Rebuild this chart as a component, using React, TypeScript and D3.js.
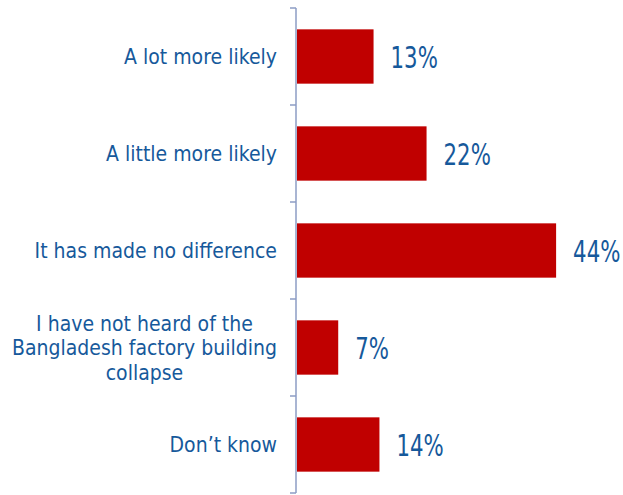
import * as d3 from "d3";
import { useEffect, useRef } from "react";

// categories top to bottom, each label split into its lines
const categories: string[][] = [
  ["A lot more likely"],
  ["A little more likely"],
  ["It has made no difference"],
  ["I have not heard of the", "Bangladesh factory building", "collapse"],
  ["Don\u2019t know"],
];
const values: number[] = [13, 22, 44, 7, 14];
const valueLabels: string[] = ["13%", "22%", "44%", "7%", "14%"];

const BLUE = "#16599b";
const RED = "#c00000";
const AXIS = "#8d9cc4";

export default function App() {
  const d3Container = useRef<SVGSVGElement>(null);

  useEffect(() => {
    if (!d3Container.current) return;
    const svg = d3.select(d3Container.current);
    svg.selectAll("*").remove();

    const width = 623;
    const height = 495;
    svg.attr("width", width).attr("height", height);

    const axisX = 296;
    const ids = categories.map((_, i) => String(i));

    const y = d3.scaleBand().domain(ids).range([8, 493]).paddingInner(0.44).paddingOuter(0.22);
    const x = d3.scaleLinear().domain([0, 45]).range([297, 562]);

    // bars
    svg
      .selectAll("rect.bar")
      .data(values)
      .join("rect")
      .attr("class", "bar")
      .attr("x", x(0))
      .attr("y", (_, i) => y(ids[i])!)
      .attr("width", (d) => x(d) - x(0))
      .attr("height", y.bandwidth())
      .attr("fill", RED);

    // axis line with ticks at band edges
    const step = y.step();
    const edges = d3.range(categories.length + 1).map((i) => 8 + i * step);
    svg
      .append("line")
      .attr("x1", axisX)
      .attr("x2", axisX)
      .attr("y1", 8)
      .attr("y2", 493)
      .attr("stroke", AXIS)
      .attr("stroke-width", 1.5);
    svg
      .selectAll("line.tick")
      .data(edges)
      .join("line")
      .attr("class", "tick")
      .attr("x1", axisX - 6)
      .attr("x2", axisX)
      .attr("y1", (d) => d)
      .attr("y2", (d) => d)
      .attr("stroke", AXIS)
      .attr("stroke-width", 1.5);

    // category labels, multi line ones centred in a block right aligned at 277
    const labelRight = 277;
    const lineH = 24.5;
    const sx = 0.9;
    categories.forEach((lines, i) => {
      const cy = y(ids[i])! + y.bandwidth() / 2;
      const g = svg.append("g");
      const texts = lines.map((ln, j) =>
        g
          .append("text")
          .attr("font-family", "DejaVu Sans, sans-serif")
          .attr("font-size", 21)
          .attr("fill", BLUE)
          .attr("text-anchor", "middle")
          .text(ln)
          .attr("data-y", cy + 7.5 + (j - (lines.length - 1) / 2) * lineH)
      );
      const widths = texts.map((t) => (t.node() as SVGTextElement).getComputedTextLength() * sx);
      const maxW = d3.max(widths) || 0;
      const cx = labelRight - maxW / 2;
      texts.forEach((t) => {
        const ty = +t.attr("data-y");
        t.attr("transform", `translate(${cx},${ty}) scale(${sx},1)`);
      });
    });

    // value labels
    svg
      .selectAll("text.val")
      .data(values)
      .join("text")
      .attr("class", "val")
      .attr("font-family", "DejaVu Sans, sans-serif")
      .attr("font-size", 30)
      .attr("fill", BLUE)
      .attr(
        "transform",
        (d, i) => `translate(${x(d) + 17},${y(ids[i])! + y.bandwidth() / 2 + 11}) scale(0.71,1)`
      )
      .text((_, i) => valueLabels[i]);
  }, []);

  return <svg ref={d3Container} style={{ position: "absolute", left: 0, top: 0 }} />;
}
